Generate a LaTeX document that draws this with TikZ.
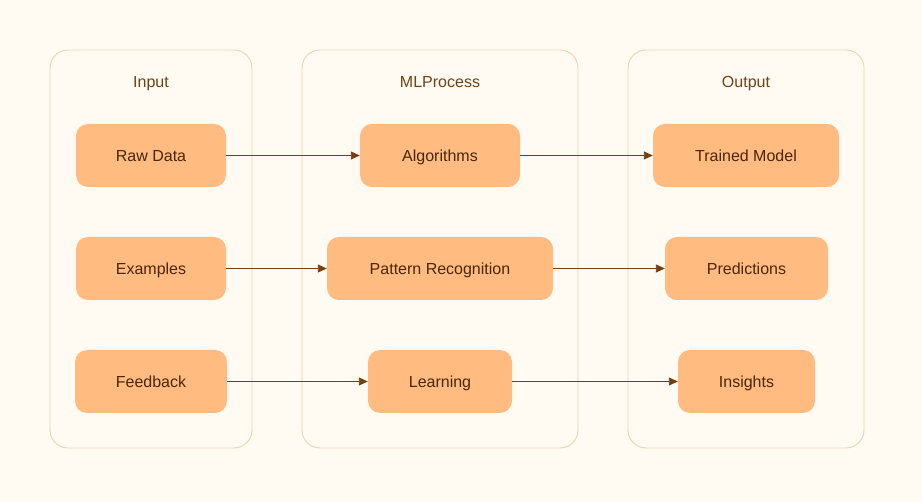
\documentclass[tikz,border=0pt]{standalone}
\usepackage{fontspec}
\setmainfont{Liberation Sans}
\usetikzlibrary{arrows.meta}
\definecolor{bg}{HTML}{FFFAF2}
\definecolor{cborder}{HTML}{EBD6AA}
\definecolor{nfill}{HTML}{FFBB80}
\definecolor{ntext}{HTML}{4A2708}
\definecolor{ttext}{HTML}{6E4414}
\definecolor{arr}{HTML}{7A3E0E}
\tikzset{
  container/.style={draw=cborder, line width=0.9pt, rounded corners=18pt, fill=bg},
  title/.style={text=ttext, font=\fontsize{16}{19}\selectfont, anchor=center,
    text height=14pt, text depth=1pt, inner sep=0pt},
  item/.style={fill=nfill, draw=none, rounded corners=12pt, text=ntext,
    font=\fontsize{16}{19}\selectfont, minimum height=63pt, inner sep=0pt,
    text height=13.5pt, text depth=1.5pt},
  conn/.style={draw=arr, line width=0.9pt, -{Triangle[length=9pt,width=8pt]}}
}
\begin{document}
\begin{tikzpicture}[x=1pt,y=-1pt]
\useasboundingbox (0,0) rectangle (922,502);
\fill[bg] (0,0) rectangle (922,502);
\draw[container] (50,50) rectangle (252,448);
\draw[container] (302,50) rectangle (578,448);
\draw[container] (628,50) rectangle (864,448);
\node[title] (tin) at (151,81) {Input};
\node[title] (tml) at (440,81) {MLProcess};
\node[title] (tout) at (746,81) {Output};
\node[item, minimum width=150pt] (raw) at (151,155.5) {Raw Data};
\node[item, minimum width=150pt] (ex) at (151,268.5) {Examples};
\node[item, minimum width=152pt] (fb) at (151,381.5) {Feedback};
\node[item, minimum width=160pt] (alg) at (440,155.5) {Algorithms};
\node[item, minimum width=226pt] (pat) at (440,268.5) {Pattern Recognition};
\node[item, minimum width=144pt] (lea) at (440,381.5) {Learning};
\node[item, minimum width=186pt] (tm) at (746,155.5) {Trained Model};
\node[item, minimum width=163pt] (pre) at (746.5,268.5) {Predictions};
\node[item, minimum width=137pt] (ins) at (746.5,381.5) {Insights};
\draw[conn] (raw) -- (alg);
\draw[conn] (ex) -- (pat);
\draw[conn] (fb) -- (lea);
\draw[conn] (alg) -- (tm);
\draw[conn] (pat) -- (pre);
\draw[conn] (lea) -- (ins);
\end{tikzpicture}
\end{document}
